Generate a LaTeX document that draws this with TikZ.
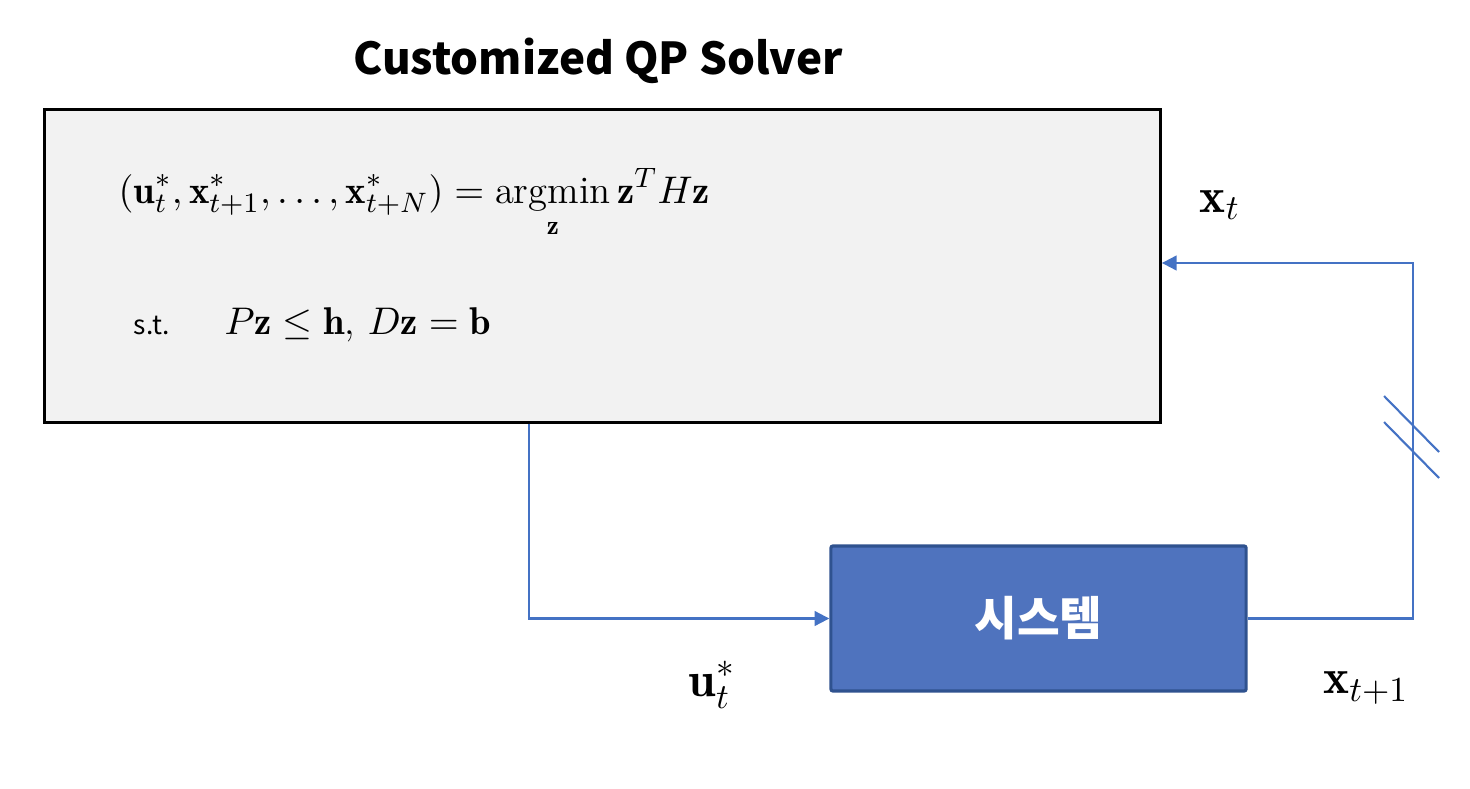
\documentclass[tikz,border=0pt]{standalone}
\usepackage{xcolor}
\usepackage{amsmath}
\usepackage{fontspec}
\usepackage{tikz}
\usetikzlibrary{arrows.meta}
\newfontfamily\korFont{Noto Sans CJK KR}
\definecolor{solverGray}{RGB}{242, 242, 242}
\definecolor{plantBlue}{RGB}{79, 115, 190}
\definecolor{plantEdge}{RGB}{47, 82, 143}
\definecolor{wireBlue}{RGB}{68, 114, 196}
\tikzset{
  solverbox/.style={draw=black, line width=0.9pt, fill=solverGray, minimum width=11.15cm, minimum height=3.12cm, inner sep=0pt},
  plantbox/.style={draw=plantEdge, line width=0.9pt, fill=plantBlue, rounded corners=0.6pt, minimum width=4.15cm, minimum height=1.45cm, inner sep=0pt, text=white, font=\korFont\bfseries\fontsize{13.2}{15}\selectfont},
  flow/.style={wireBlue, line width=0.6pt, -{Triangle[length=4.2pt,width=4.2pt]}},
  cut/.style={wireBlue, line width=0.6pt},
  signal/.style={font=\fontsize{14}{16}\selectfont, inner sep=0pt},
  eqn/.style={font=\fontsize{11}{13}\selectfont, inner sep=0pt},
}

\begin{document}
\begin{tikzpicture}[x=0.01cm, y=-0.01cm]
\useasboundingbox (0,0) rectangle (1470,788);

% Title
\node[inner sep=0pt, anchor=base, font=\korFont\bfseries\fontsize{12.5}{15}\selectfont] (title) at (598,75) {Customized QP Solver};

% Solver and plant
\node[solverbox] (solver) at (602.5,266) {};
\node[plantbox] (plant) at (1038.5,618.5) {시스템};

% Problem statement
\node[eqn, anchor=base west] (cost) at (118,203)
  {$\displaystyle (\mathbf{u}_t^*, \mathbf{x}_{t+1}^*, \ldots, \mathbf{x}_{t+N}^*) = \operatorname*{argmin}_{\mathbf{z}} \mathbf{z}^T H \mathbf{z}$};
\node[inner sep=0pt, anchor=base west, font=\korFont\fontsize{7.5}{9}\selectfont] (st) at (133,334) {s.t.};
\node[eqn, anchor=base west] (cons) at (224,334)
  {$P\mathbf{z} \le \mathbf{h}$, $D\mathbf{z} = \mathbf{b}$};

% Loop
\coordinate (tap) at (529,0);
\coordinate (back) at (1413,263);
\draw[flow] (solver.south -| tap) |- (plant.west);
\draw[flow] (plant.east) -| (back) -- (back -| solver.east);
\foreach \y in {396, 422} {
    \draw[cut] (1384,\y) -- (1439,\y+56);
}

% Signals
\node[signal] (xt) at (1220,205) {$\mathbf{x}_t$};
\node[signal] (ut) at (712,685) {$\mathbf{u}_t^*$};
\node[signal] (xnext) at (1366,688) {$\mathbf{x}_{t+1}$};
\end{tikzpicture}
\end{document}
